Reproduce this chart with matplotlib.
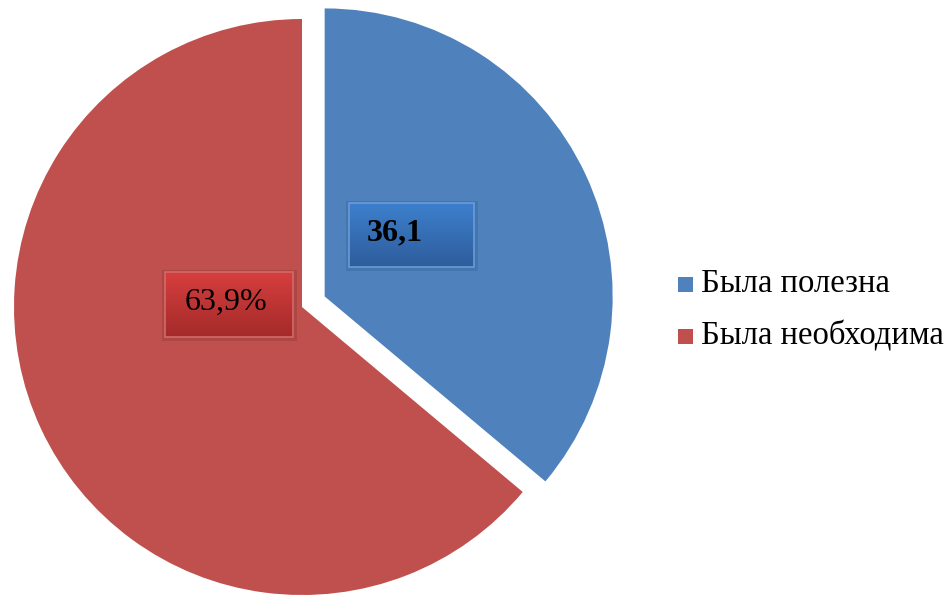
import numpy as np
import matplotlib
matplotlib.use("Agg")
import matplotlib.pyplot as plt
from matplotlib.patches import Rectangle
from matplotlib.colors import LinearSegmentedColormap

labels = ["Была полезна", "Была необходима"]
values = [36.1, 63.9]
value_texts = ["36,1", "63,9%"]
value_weights = ["bold", "normal"]
colors = ["#4F81BD", "#C0504D"]

W, H = 951, 597
fig = plt.figure(figsize=(W / 100, H / 100), dpi=100)
ax = fig.add_axes([0, 0, 1, 1])

cx, cy, r = 302, H - 307, 288
wedges, _ = ax.pie(values, colors=colors, startangle=90, counterclock=False,
                   center=(cx, cy), radius=r, explode=[25, 0],
                   wedgeprops=dict(linewidth=0))
ax.set_xlim(0, W)
ax.set_ylim(0, H)
ax.set_aspect("equal")
ax.axis("off")

# label boxes (pixel-space boxes: x0, y_top, width, height) and text centres
boxes = [(349, 203, 125, 64), (165, 272, 128, 65)]
text_x = [395, 226]
grads = [("#3D7FCC", "#2E5D9C", "#6B9BD6"), ("#D63E3E", "#A52A2A", "#D26A68")]
shadow_cols = ["#2F5F96", "#8E3633"]
for (bx, by, bw, bh), tx, (ctop, cbot, cedge), sc, txt, wt in zip(
        boxes, text_x, grads, shadow_cols, value_texts, value_weights):
    x0, y0 = bx, H - by - bh
    ax.add_patch(Rectangle((x0 - 3, y0 - 4), bw + 7, bh + 6, facecolor=sc,
                           alpha=0.35, linewidth=0, zorder=3))
    cmap = LinearSegmentedColormap.from_list("g", [cbot, ctop])
    grad = np.linspace(0, 1, 64).reshape(-1, 1)
    ax.imshow(grad, cmap=cmap, extent=(x0, x0 + bw, y0, y0 + bh),
              origin="lower", aspect="auto", zorder=4)
    ax.add_patch(Rectangle((x0, y0), bw, bh, facecolor="none",
                           edgecolor=cedge, linewidth=1.2, zorder=5))
    ax.text(tx, y0 + bh / 2 + 2, txt, ha="center", va="center",
            fontsize=23, fontweight=wt, family="Liberation Serif",
            color="black", zorder=6)
ax.set_xlim(0, W)
ax.set_ylim(0, H)

# legend
leg_y = [284, 336]
for lab, col, ly in zip(labels, colors, leg_y):
    ax.add_patch(Rectangle((678, H - ly - 7.5), 15, 15, facecolor=col,
                           linewidth=0, zorder=5))
    ax.text(701, H - ly, lab, ha="left", va="center", fontsize=23.5,
            family="Liberation Serif", color="black", zorder=6)

fig.savefig("out.png", dpi=100, facecolor="white")
